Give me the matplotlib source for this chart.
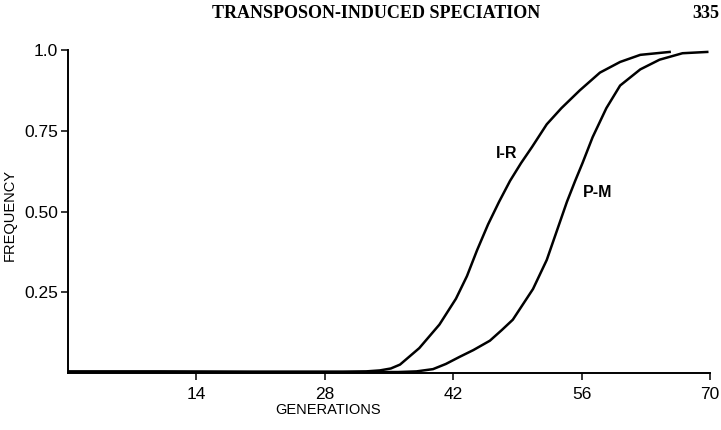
import matplotlib.pyplot as plt

# generations vs. frequency
gen_ir = [0, 10, 20, 28, 30, 32.5, 34, 35.2, 36.2, 38.3, 40.5, 42.3, 43.5, 44.6,
          45.8, 47.0, 48.2, 49.4, 50.6, 52.2, 53.8, 55.8, 58.0, 60.2, 62.4, 65.6]
freq_ir = [0.005, 0.005, 0.004, 0.004, 0.004, 0.005, 0.008, 0.014, 0.026, 0.077,
           0.15, 0.23, 0.30, 0.38, 0.46, 0.53, 0.595, 0.65, 0.70, 0.77, 0.82,
           0.875, 0.93, 0.963, 0.985, 0.994]

gen_pm = [0, 10, 20, 30, 36, 38, 39.8, 41.2, 42.7, 44.2, 46.0, 47.3, 48.5, 50.7,
          52.2, 53.3, 54.4, 55.3, 56.1, 57.2, 58.7, 60.2, 62.4, 64.5, 67.0, 69.7]
freq_pm = [0.003, 0.003, 0.003, 0.003, 0.003, 0.005, 0.012, 0.028, 0.05, 0.071,
           0.10, 0.133, 0.165, 0.26, 0.35, 0.44, 0.53, 0.595, 0.65, 0.73, 0.82,
           0.89, 0.94, 0.97, 0.99, 0.994]

xticks = [14, 28, 42, 56, 70]
xtick_labels = ["14", "28", "42", "56", "70"]
yticks = [0.25, 0.50, 0.75, 1.0]
ytick_labels = ["0.25", "0.50", "0.75", "1.0"]

plt.rcParams['font.family'] = ['Liberation Sans', 'DejaVu Sans']

fig = plt.figure(figsize=(7.21, 4.30), dpi=100)
ax = fig.add_axes([68 / 721, 57 / 430, 642 / 721, 323 / 430])

ax.plot(gen_ir, freq_ir, color='black', linewidth=1.8, solid_joinstyle='round')
ax.plot(gen_pm, freq_pm, color='black', linewidth=1.8, solid_joinstyle='round')

ax.set_xlim(0, 70)
ax.set_ylim(0, 1.0)
ax.set_xticks(xticks)
ax.set_xticklabels(xtick_labels)
ax.set_yticks(yticks)
ax.set_yticklabels(ytick_labels)
ax.tick_params(direction='out', length=5, width=1.1, labelsize=12.5)
ax.tick_params(axis='x', pad=5)
ax.tick_params(axis='y', pad=2)

for side in ['top', 'right']:
    ax.spines[side].set_visible(False)
for side in ['left', 'bottom']:
    ax.spines[side].set_linewidth(1.4)

ax.text(47.8, 0.68, "I-R", fontsize=11.5, fontweight='bold', ha='center', va='center')
ax.text(57.8, 0.56, "P-M", fontsize=11.5, fontweight='bold', ha='center', va='center')

fig.text(328 / 721, 1 - 410 / 430, "GENERATIONS", fontsize=10.5, ha='center', va='center')
fig.text(10 / 721, 1 - 215 / 430, "FREQUENCY", fontsize=10.5, rotation=90,
         ha='center', va='center')

fig.text(376 / 721, 1 - 13 / 430, "TRANSPOSON-INDUCED SPECIATION", fontsize=13,
         family='Liberation Serif', fontweight='bold', ha='center', va='center')
fig.text(719 / 721, 1 - 13 / 430, "335", fontsize=13, family='Liberation Serif',
         fontweight='bold', ha='right', va='center')

fig.savefig("out.png", dpi=100)
